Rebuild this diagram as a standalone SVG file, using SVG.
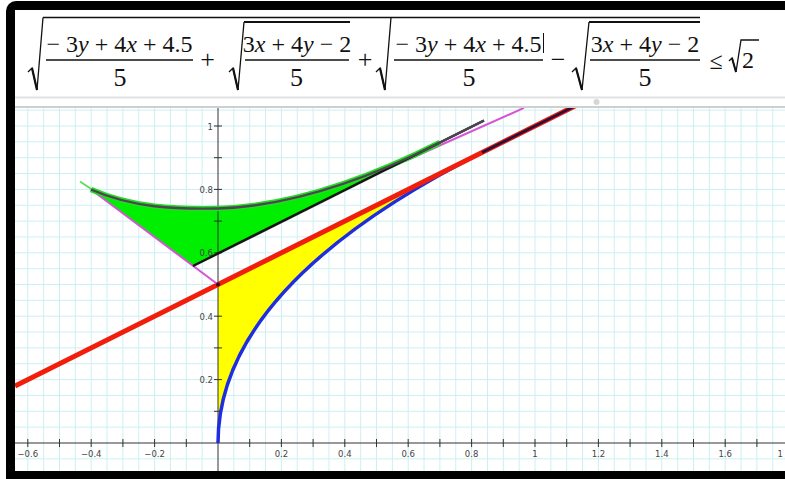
<svg xmlns="http://www.w3.org/2000/svg" width="785" height="479" viewBox="0 0 785 479">
<style>
.m{font-family:"Liberation Serif","Times New Roman",serif;font-size:24px;fill:#111}
.d{font-size:26px}
.i{font-style:italic}
.ax{font-family:"DejaVu Sans","Liberation Sans",sans-serif;font-size:8.5px;fill:#444}
.rad{fill:none;stroke:#111;stroke-width:1.3;stroke-linejoin:miter}
.bar{stroke:#111;stroke-width:1.4}
.grid{fill:none;stroke:#cdeff3;stroke-width:1}
</style>
<defs>
<clipPath id="plot"><rect x="15" y="108" width="770" height="363"/></clipPath>
</defs>
<rect width="785" height="479" fill="#fff"/>
<rect x="6" y="1" width="830" height="500" rx="10" fill="#000"/>
<rect x="15" y="10" width="780" height="461" fill="#fff"/>

<g id="formula">
<line x1="43" y1="17.5" x2="700" y2="17.5" class="bar" stroke-width="1.1"/>
<path class="rad" d="M28,72 L32,68 L37,90 L43,17.5"/>
<line x1="32" y1="68" x2="37" y2="90" stroke="#111" stroke-width="2.2"/>
<text class="m" x="119.5" y="52" text-anchor="middle">− 3<tspan class="i">y</tspan> + 4<tspan class="i">x</tspan> + 4.5</text>
<line class="bar" x1="46" y1="60" x2="193" y2="60"/>
<text class="m d" x="120" y="86" text-anchor="middle">5</text>
<text class="m d" x="207.5" y="68" text-anchor="middle">+</text>

<path class="rad" d="M229,72 L233,68 L238,90 L244,22"/>
<line x1="233" y1="68" x2="238" y2="90" stroke="#111" stroke-width="2.2"/>
<line x1="244" y1="22" x2="350" y2="22" stroke="#111" stroke-width="2"/>
<text class="m" x="297" y="52" text-anchor="middle">3<tspan class="i">x</tspan> + 4<tspan class="i">y</tspan> − 2</text>
<line class="bar" x1="245" y1="60" x2="349" y2="60"/>
<text class="m d" x="296.5" y="86" text-anchor="middle">5</text>
<text class="m d" x="365" y="68" text-anchor="middle">+</text>

<path class="rad" d="M376,72 L380,68 L385,90 L391,17.5"/>
<line x1="380" y1="68" x2="385" y2="90" stroke="#111" stroke-width="2.2"/>
<text class="m" x="468.5" y="52" text-anchor="middle">− 3<tspan class="i">y</tspan> + 4<tspan class="i">x</tspan> + 4.5</text>
<line x1="543.5" y1="33" x2="543.5" y2="53" stroke="#111" stroke-width="1"/>
<line class="bar" x1="394" y1="60" x2="543" y2="60"/>
<text class="m d" x="469" y="86" text-anchor="middle">5</text>
<text class="m d" x="558" y="68" text-anchor="middle">−</text>

<path class="rad" d="M572,72 L576,68 L582,90 L589,22"/>
<line x1="576" y1="68" x2="582" y2="90" stroke="#111" stroke-width="2.2"/>
<line x1="589" y1="22" x2="700" y2="22" stroke="#111" stroke-width="2"/>
<text class="m" x="645" y="52" text-anchor="middle">3<tspan class="i">x</tspan> + 4<tspan class="i">y</tspan> − 2</text>
<line class="bar" x1="590" y1="60" x2="700" y2="60"/>
<text class="m d" x="645" y="86" text-anchor="middle">5</text>

<text class="m" x="716" y="69" text-anchor="middle" font-size="28">≤</text>
<path class="rad" d="M729,61 L732,58 L736,72 L741,40 H759"/>
<line x1="732" y1="58" x2="736" y2="72" stroke="#111" stroke-width="2"/>
<text class="m" x="742" y="68" font-size="34">2</text>
</g>

<line x1="15" y1="97.5" x2="785" y2="97.5" stroke="#e2e2e2" stroke-width="2"/>
<line x1="15" y1="107" x2="785" y2="107" stroke="#cfcfcf" stroke-width="2"/>
<circle cx="596.5" cy="102" r="3" fill="#d6d6d6"/>

<g clip-path="url(#plot)">
<g id="grid">
<path class="grid" d="M27.8,108V471M43.65,108V471M59.5,108V471M75.35,108V471M91.2,108V471M107.05,108V471M122.9,108V471M138.75,108V471M154.6,108V471M170.45,108V471M186.3,108V471M202.15,108V471M233.85,108V471M249.7,108V471M265.55,108V471M281.4,108V471M297.25,108V471M313.1,108V471M328.95,108V471M344.8,108V471M360.65,108V471M376.5,108V471M392.35,108V471M408.2,108V471M424.05,108V471M439.9,108V471M455.75,108V471M471.6,108V471M487.45,108V471M503.3,108V471M519.15,108V471M535,108V471M550.85,108V471M566.7,108V471M582.55,108V471M598.4,108V471M614.25,108V471M630.1,108V471M645.95,108V471M661.8,108V471M677.65,108V471M693.5,108V471M709.35,108V471M725.2,108V471M741.05,108V471M756.9,108V471M772.75,108V471"/>
<path class="grid" d="M15,458.85H785M15,427.15H785M15,411.3H785M15,395.45H785M15,379.6H785M15,363.75H785M15,347.9H785M15,332.05H785M15,316.2H785M15,300.35H785M15,284.5H785M15,268.65H785M15,252.8H785M15,236.95H785M15,221.1H785M15,205.25H785M15,189.4H785M15,173.55H785M15,157.7H785M15,141.85H785M15,126H785M15,110.15H785"/>
</g>

<g id="yellow-region">
<path d="M218,443 Q218,284.5 487.5,149.75 L218,284.5 Z" fill="#ffff00"/>
</g>
<g id="green-region">
<path d="M91,189.5 C133,208 176,209.3 218,208.5 C292,206.3 366,180 440,142.5 L193,266 Z" fill="#00ee00"/>
</g>

<g id="axes">
<line x1="15" y1="443" x2="785" y2="443" stroke="#333" stroke-width="1"/>
<line x1="218" y1="108" x2="218" y2="471" stroke="#333" stroke-width="1"/>
<path stroke="#333" stroke-width="1" fill="none" d="M27.8,439V447M59.5,439V447M91.2,439V447M122.9,439V447M154.6,439V447M186.3,439V447M249.7,439V447M281.4,439V447M313.1,439V447M344.8,439V447M376.5,439V447M408.2,439V447M439.9,439V447M471.6,439V447M503.3,439V447M535,439V447M566.7,439V447M598.4,439V447M630.1,439V447M661.8,439V447M693.5,439V447M725.2,439V447M756.9,439V447M214,411.3H222M214,379.6H222M214,347.9H222M214,316.2H222M214,284.5H222M214,252.8H222M214,221.1H222M214,189.4H222M214,157.7H222M214,126H222"/>
<g class="ax" text-anchor="middle">
<text x="27.8" y="456.5">−0.6</text>
<text x="91.2" y="456.5">−0.4</text>
<text x="154.6" y="456.5">−0.2</text>
<text x="281.4" y="456.5">0.2</text>
<text x="344.8" y="456.5">0.4</text>
<text x="408.2" y="456.5">0.6</text>
<text x="471.6" y="456.5">0.8</text>
<text x="535" y="456.5">1</text>
<text x="598.4" y="456.5">1.2</text>
<text x="661.8" y="456.5">1.4</text>
<text x="725.2" y="456.5">1.6</text>
</g>
<text class="ax" x="777.5" y="456.5">1</text>
<g class="ax" text-anchor="end">
<text x="213" y="129.5">1</text>
<text x="213" y="192.9">0.8</text>
<text x="213" y="256.3">0.6</text>
<text x="213" y="319.7">0.4</text>
<text x="213" y="383.1">0.2</text>
</g>
</g>

<g id="connectors">
<path d="M218,443 Q218,284.5 487.5,149.75 L575,106" fill="none" stroke="#1f2de0" stroke-width="3.5"/>
<line x1="15" y1="386" x2="577" y2="105" stroke="#f01e0a" stroke-width="5"/>
<line x1="482" y1="152.5" x2="577" y2="105" stroke="#251040" stroke-width="2.6"/>
<line x1="405" y1="161" x2="524" y2="107.9" stroke="#d655d6" stroke-width="2"/>
<line x1="80" y1="181.5" x2="92" y2="189.5" stroke="#5fdc5f" stroke-width="1.8"/>
<line x1="91" y1="189.5" x2="218" y2="284.5" stroke="#d655d6" stroke-width="2"/>
<path d="M91,189.5 C133,208 176,209.3 218,208.5 C292,206.3 366,180 440,142.5" fill="none" stroke="#22dd22" stroke-width="5.5"/>
<line x1="193" y1="266" x2="484" y2="120.5" stroke="#161616" stroke-width="2.5"/>
<path d="M91,189.5 C133,208 176,209.3 218,208.5 C292,206.3 366,180 440,142.5 L484,120.5" fill="none" stroke="#4e4452" stroke-width="2.4"/>
<circle cx="218" cy="284.5" r="2" fill="#301020"/>
</g>
</g>
</svg>
